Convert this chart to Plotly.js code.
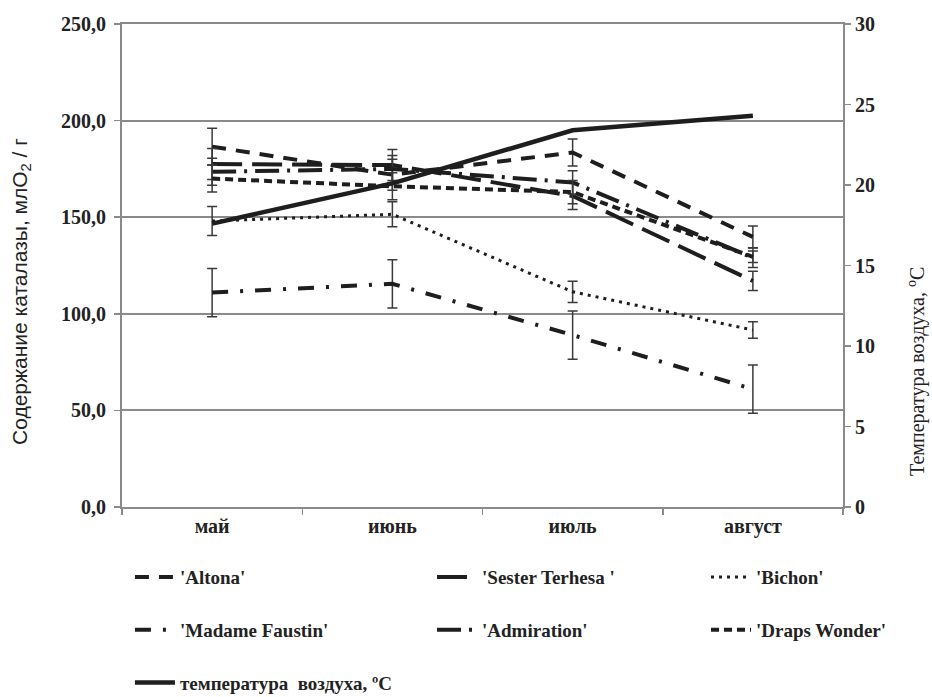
<!DOCTYPE html>
<html>
<head>
<meta charset="utf-8">
<script src="https://cdn.plot.ly/plotly-3.0.1.min.js"></script>
<style>html,body{margin:0;padding:0;background:#fff;}#chart{width:932px;height:697px;}</style>
</head>
<body>
<div id="chart"></div>
<script>
const months = ['май', 'июнь', 'июль', 'август'];

const altona = [186.5, 172.0, 183.5, 139.8];
const altonaErr = [9.5, 8.0, 7.0, 5.6];
const sester = [177.5, 177.0, 161.0, 117.0];
const sesterErr = [8.0, 8.0, 7.0, 5.0];
const bichon = [148.0, 151.5, 111.4, 91.6];
const bichonErr = [7.5, 6.5, 5.5, 4.3];
const faustin = [111.0, 115.5, 89.0, 61.0];
const faustinErr = [12.5, 12.5, 12.5, 12.5];
const admiration = [173.5, 175.0, 168.0, 129.0];
const admirationErr = [7.0, 7.0, 6.0, 5.0];
const draps = [170.0, 166.0, 163.0, 129.5];
const drapsErr = [7.0, 7.0, 6.0, 3.0];
const temperature = [17.6, 20.1, 23.4, 24.3];

const seriesNames = ["'Altona'", "'Sester Terhesa '", "'Bichon'", "'Madame Faustin'", "'Admiration'", "'Draps Wonder'"];
const tempName = 'температура  воздуха, ºC';

const ink = '#1e1e1e';
const errStyle = (arr) => ({type: 'data', array: arr, visible: true, color: '#3a3a3a', thickness: 1.5, width: 5});

function series(name, y, err, dash, width, legend, group) {
  return {
    type: 'scatter', mode: 'lines', x: months, y: y, name: name,
    line: {color: ink, width: width, dash: dash},
    error_y: errStyle(err), legend: legend, legendgroup: group
  };
}

const traces = [
  series(seriesNames[0], altona, altonaErr, '14px,10px', 4, 'legend', 'a'),
  series(seriesNames[3], faustin, faustinErr, '16px,12px,3px,12px', 4, 'legend', 'b'),
  series(seriesNames[1], sester, sesterErr, '30px,10px', 4, 'legend2', 'c'),
  series(seriesNames[4], admiration, admirationErr, '24px,8px,3px,8px', 4, 'legend2', 'd'),
  series(seriesNames[2], bichon, bichonErr, '3px,5px', 3, 'legend3', 'e'),
  series(seriesNames[5], draps, drapsErr, '8px,5px', 4, 'legend3', 'f'),
  {
    type: 'scatter', mode: 'lines', x: months, y: temperature, name: tempName,
    yaxis: 'y2', line: {color: ink, width: 4.5}, legend: 'legend', legendgroup: 'g'
  }
];

const serif = '"Times New Roman", "Liberation Serif", Times, serif';
const tickFont = {family: serif, size: 20, weight: 700, color: '#222'};
const legFont = {family: serif, size: 19, weight: 700, color: '#222'};
const axisGray = '#8a8a8a';

function legendAt(x) {
  return {
    x: x, xanchor: 'left', y: -0.106, yanchor: 'top', orientation: 'v',
    font: legFont, bgcolor: 'rgba(0,0,0,0)', tracegroupgap: 25, itemwidth: 40
  };
}

const layout = {
  width: 932, height: 697,
  margin: {l: 122, r: 89, t: 24, b: 190, autoexpand: false},
  paper_bgcolor: '#fff', plot_bgcolor: '#fff',
  separators: ', ',
  showlegend: true,
  xaxis: {
    type: 'category', range: [-0.5, 3.5], showline: true, linecolor: axisGray, linewidth: 2, mirror: true,
    ticks: 'outside', tickson: 'boundaries', ticklen: 6, tickcolor: axisGray, tickwidth: 1.5,
    tickfont: tickFont, showgrid: false, zeroline: false
  },
  yaxis: {
    range: [0, 250], dtick: 50, tickformat: '.1f', showline: true, linecolor: axisGray, linewidth: 2,
    ticks: 'outside', ticklen: 6, tickcolor: axisGray, tickwidth: 1.5, ticklabelstandoff: 4,
    showgrid: true, gridcolor: axisGray, gridwidth: 2, zeroline: false,
    tickfont: tickFont
  },
  yaxis2: {
    overlaying: 'y', side: 'right', range: [0, 30], dtick: 5, tickformat: 'd',
    showline: true, linecolor: axisGray, linewidth: 2,
    ticks: 'outside', ticklen: 6, tickcolor: axisGray, tickwidth: 1.5,
    showgrid: false, zeroline: false, tickfont: tickFont
  },
  legend: legendAt(0.011),
  legend2: legendAt(0.43),
  legend3: legendAt(0.81),
  annotations: [
    {
      text: 'Содержание каталазы, млО<sub>2</sub> / г', textangle: -90,
      xref: 'paper', yref: 'paper', x: (21 - 122) / 721, y: (507 - 292) / 483,
      xanchor: 'center', yanchor: 'middle', showarrow: false,
      font: {family: 'Liberation Sans, Arial, sans-serif', size: 21, color: '#222'}
    },
    {
      text: 'Температура воздуха, <sup>o</sup>C', textangle: -90,
      xref: 'paper', yref: 'paper', x: (916 - 122) / 721, y: (507 - 372) / 483,
      xanchor: 'center', yanchor: 'middle', showarrow: false,
      font: {family: serif, size: 20, color: '#222'}
    }
  ]
};

Plotly.newPlot('chart', traces, layout, {displayModeBar: false, staticPlot: true});
</script>
</body>
</html>
